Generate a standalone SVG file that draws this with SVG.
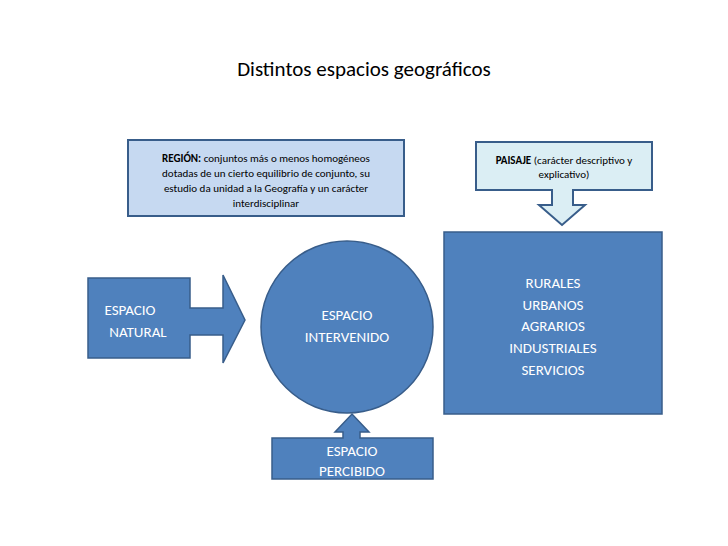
<svg xmlns="http://www.w3.org/2000/svg" width="728" height="546" viewBox="0 0 728 546">
<style>
.s{fill:#4f81bd;stroke:#385d8a;stroke-width:1.5}
.l{fill:#c6d9f1;stroke:#385d8a;stroke-width:2}
.p{fill:#dbeef4;stroke:#385d8a;stroke-width:2}
text{font-family:Calibri,Carlito,"Liberation Sans",sans-serif;text-anchor:middle}
.w{fill:#fff;font-size:15px}
.b{fill:#000;font-size:11px}
</style>
<rect width="728" height="546" fill="#fff"/>
<text x="364" y="76" font-size="21" fill="#000">Distintos espacios geográficos</text>
<g id="region"><rect class="l" x="128" y="140" width="276" height="76"/>
<text class="b" x="266" y="162"><tspan font-weight="bold">REGIÓN:</tspan> conjuntos más o menos homogéneos</text>
<text class="b" x="266" y="177">dotadas de un cierto equilibrio de conjunto, su</text>
<text class="b" x="266" y="192">estudio da unidad a la Geografía y un carácter</text>
<text class="b" x="266" y="207">interdisciplinar</text></g>
<g id="paisaje"><path class="p" d="M476,142H652V190H573V205H585L562,225L539,205H552V190H476Z"/>
<text class="b" x="564" y="164"><tspan font-weight="bold">PAISAJE</tspan> (carácter descriptivo y</text>
<text class="b" x="564" y="178">explicativo)</text></g>
<g id="tipos"><rect class="s" x="444" y="232" width="218" height="182"/>
<text class="w" x="553" y="288">RURALES</text>
<text class="w" x="553" y="310">URBANOS</text>
<text class="w" x="553" y="331">AGRARIOS</text>
<text class="w" x="553" y="353">INDUSTRIALES</text>
<text class="w" x="553" y="375">SERVICIOS</text></g>
<g id="natural"><path class="s" d="M88,278H190V308H223V275L245,320L223,363V335H190V358H88Z"/>
<text class="w" x="130" y="315" text-anchor="middle">ESPACIO</text>
<text class="w" x="138" y="337">NATURAL</text></g>
<g id="intervenido"><circle class="s" cx="347" cy="327" r="86"/>
<text class="w" x="347" y="320">ESPACIO</text>
<text class="w" x="347" y="342">INTERVENIDO</text></g>
<g id="percibido"><path class="s" d="M272,438H343V432H335L352,414L369,432H360V438H433V479H272Z"/>
<text class="w" x="352" y="456">ESPACIO</text>
<text class="w" x="352" y="476">PERCIBIDO</text></g>
<g id="connectors"></g>
</svg>
